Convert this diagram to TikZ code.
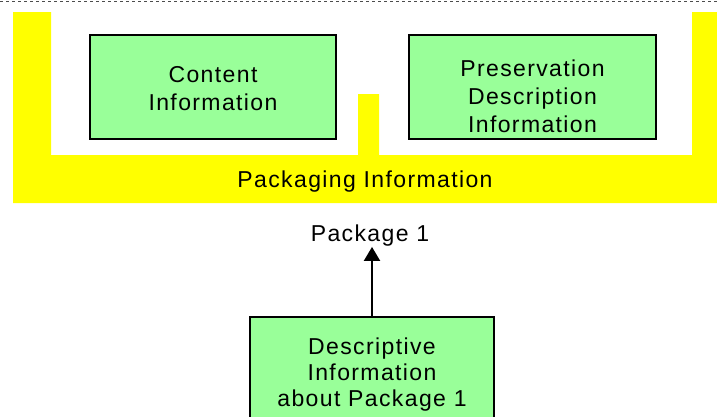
\documentclass[tikz,border=0pt]{standalone}
\usepackage{fontspec}
\setmainfont{Liberation Sans}[LetterSpace=6]
\usetikzlibrary{arrows.meta}
\definecolor{boxgreen}{HTML}{99FF99}
\definecolor{packyellow}{HTML}{FFFF00}
\tikzset{
  infobox/.style={draw=black, line width=2pt, fill=boxgreen, rectangle, inner sep=0pt},
  txt/.style={inner sep=0pt, align=center, font=\fontsize{23}{28}\selectfont},
  link/.style={draw=black, line width=2pt, -{Triangle[width=16pt,length=14pt]}},
}
\begin{document}
\begin{tikzpicture}[x=1pt, y=-1pt]
\useasboundingbox (0,0) rectangle (717,416);
\clip (0,0) rectangle (717,416);
\fill[white] (0,0) rectangle (717,416);

% boundary of the archival package
\draw[gray!60!black, line width=1pt, dash pattern=on 3pt off 3pt] (0,1) -- (717,1);

% packaging information wrapper
\fill[packyellow] (13,12) -- (51,12) -- (51,155) -- (358,155) -- (358,94)
  -- (379,94) -- (379,155) -- (692,155) -- (692,12) -- (717,12)
  -- (717,203) -- (13,203) -- cycle;
\node[txt] (packtxt) at (365,182) {Packaging Information};

% content and PDI
\node[infobox, minimum width=246pt, minimum height=104pt] (content) at (213,87) {};
\node[txt] (contenttxt) at (213,89) {Content\\Information};
\node[infobox, minimum width=247pt, minimum height=104pt] (pdi) at (532.5,87) {};
\node[txt] (pditxt) at (532.5,96) {Preservation\\Description\\Information};

% package label and descriptive information
\node[txt] (pkg) at (370,236) {Package 1};
\node[infobox, minimum width=244pt, minimum height=114pt] (desc) at (372,374) {};
\node[txt, font=\fontsize{23}{26}\selectfont] (desctxt) at (372,375) {Descriptive\\Information\\about Package 1};

\draw[link] (desc.north) -- (desc.north |- pkg.south);
\end{tikzpicture}
\end{document}
